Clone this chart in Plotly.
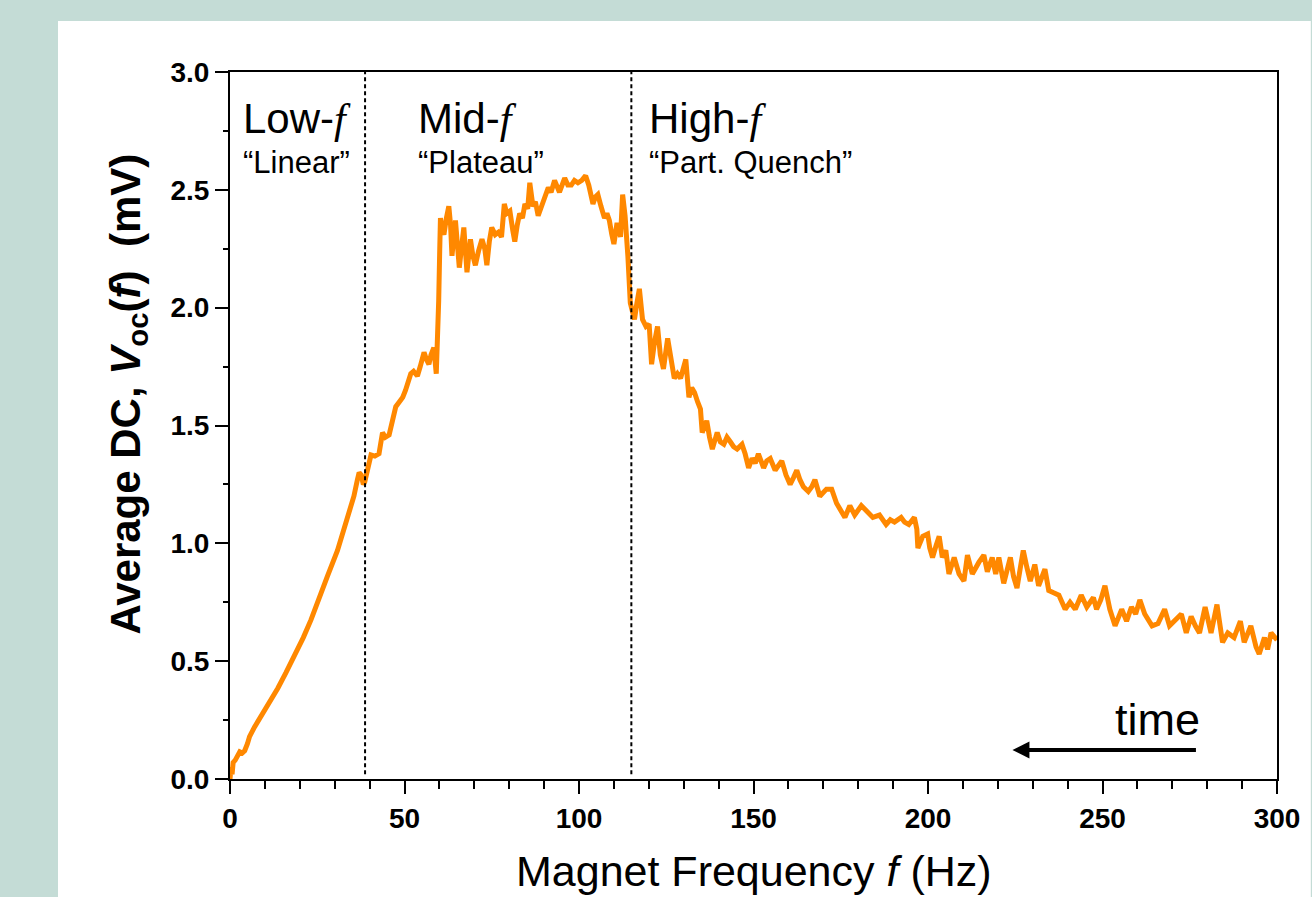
import plotly.graph_objects as go

# ---------------- data ----------------
freq_hz = [
    0.0, 0.3, 0.6, 0.9, 1.5, 2.2, 2.8, 3.5, 4.2, 5.0, 5.6, 7.0, 8.9, 11.0, 13.7, 16.0, 18.4, 21.0, 23.2, 25.5,
    27.9, 30.8, 33.6, 35.5, 36.5, 37.0, 37.6, 38.2, 38.6, 39.2, 39.8, 40.4, 41.5, 42.7, 43.7, 44.5, 45.6, 46.5,
    47.5, 48.5, 49.5, 50.3, 51.8, 52.6, 53.7, 54.5, 55.6, 56.3, 57.0, 57.6, 58.4, 59.1, 59.5, 59.8, 60.1, 60.3,
    60.8, 61.3, 62.0, 62.7, 63.2, 63.6, 64.6, 65.2, 65.7, 66.3, 67.0, 67.9, 68.9, 69.6, 70.3, 71.2, 72.2, 73.0,
    73.6, 74.3, 75.0, 76.0, 76.9, 77.8, 78.6, 79.3, 80.2, 81.0, 81.6, 82.3, 83.0, 83.8, 84.5, 85.3, 85.9, 86.8,
    87.5, 88.3, 89.0, 89.7, 91.2, 92.0, 93.0, 94.4, 95.2, 95.9, 96.8, 97.8, 98.7, 99.7, 100.8, 101.9, 102.8,
    104.0, 104.7, 105.4, 106.3, 107.3, 108.0, 108.7, 109.4, 110.0, 110.9, 111.9, 112.5, 113.2, 114.0, 114.4,
    114.7, 115.2, 115.9, 116.6, 117.3, 118.2, 119.2, 120.1, 120.8, 121.6, 122.5, 123.3, 124.2, 125.4, 126.3,
    127.3, 128.2, 129.1, 130.6, 131.5, 132.3, 133.1, 134.0, 134.8, 135.3, 136.6, 137.4, 138.2, 139.6, 140.5,
    141.5, 142.4, 143.4, 144.3, 145.3, 146.7, 147.6, 148.6, 149.6, 150.5, 151.4, 152.9, 153.8, 154.8, 156.2,
    157.2, 158.1, 159.3, 160.5, 161.5, 162.4, 163.3, 164.3, 165.7, 166.7, 167.6, 168.3, 169.0, 170.9, 172.4,
    173.8, 175.0, 176.2, 177.6, 179.0, 180.9, 182.8, 184.2, 186.1, 188.0, 189.2, 190.4, 192.3, 193.3, 194.5,
    196.1, 196.8, 197.1, 198.5, 199.9, 200.5, 201.3, 202.3, 203.2, 204.1, 205.1, 206.0, 207.5, 208.9, 210.3,
    211.3, 212.7, 214.6, 216.0, 217.0, 218.4, 219.4, 220.3, 221.7, 222.7, 223.6, 224.5, 225.5, 226.5, 227.3,
    228.3, 229.3, 230.6, 231.7, 233.5, 234.6, 236.0, 237.5, 239.3, 240.7, 242.2, 243.9, 245.5, 247.4, 248.3,
    249.5, 250.7, 252.1, 253.6, 255.5, 256.9, 258.3, 259.5, 260.7, 262.1, 264.2, 265.9, 267.8, 269.2, 270.7,
    272.6, 274.0, 275.4, 276.6, 277.8, 279.4, 281.1, 282.8, 284.4, 285.9, 287.7, 289.5, 290.6, 292.5, 294.0,
    294.9, 296.4, 297.3, 298.3, 300.0,
]
voc_mv = [
    0.00, 0.05, 0.02, 0.07, 0.08, 0.10, 0.115, 0.11, 0.12, 0.15, 0.18, 0.22, 0.265, 0.32, 0.385, 0.45, 0.52, 0.60, 0.675, 0.76,
    0.86, 0.97, 1.10, 1.20, 1.27, 1.30, 1.29, 1.25, 1.26, 1.30, 1.33, 1.375, 1.37, 1.38, 1.47, 1.45, 1.46, 1.52,
    1.58, 1.60, 1.62, 1.65, 1.72, 1.73, 1.71, 1.75, 1.81, 1.78, 1.76, 1.80, 1.83, 1.72, 1.85, 2.03, 2.25, 2.38,
    2.33, 2.31, 2.38, 2.43, 2.35, 2.22, 2.37, 2.28, 2.17, 2.25, 2.34, 2.15, 2.29, 2.22, 2.18, 2.24, 2.29, 2.25,
    2.18, 2.28, 2.34, 2.31, 2.32, 2.30, 2.44, 2.40, 2.41, 2.33, 2.28, 2.35, 2.40, 2.38, 2.44, 2.42, 2.53, 2.43,
    2.45, 2.39, 2.42, 2.46, 2.51, 2.49, 2.54, 2.49, 2.53, 2.55, 2.52, 2.52, 2.54, 2.53, 2.54, 2.56, 2.52,
    2.44, 2.47, 2.48, 2.43, 2.38, 2.40, 2.37, 2.31, 2.27, 2.36, 2.30, 2.48, 2.39, 2.22, 2.05,
    2.02, 1.99, 1.95, 2.02, 2.08, 1.95, 1.92, 1.93, 1.76, 1.85, 1.92, 1.80, 1.74, 1.87, 1.78,
    1.70, 1.72, 1.70, 1.78, 1.62, 1.66, 1.64, 1.60, 1.57, 1.47, 1.52, 1.45, 1.40, 1.47, 1.43,
    1.42, 1.45, 1.43, 1.41, 1.40, 1.42, 1.38, 1.32, 1.36, 1.34, 1.38, 1.32, 1.35, 1.36, 1.31,
    1.33, 1.35, 1.29, 1.25, 1.28, 1.31, 1.27, 1.24, 1.22, 1.24, 1.27, 1.23, 1.20, 1.23, 1.23,
    1.17, 1.14, 1.11, 1.16, 1.12, 1.16, 1.13, 1.11, 1.12, 1.08, 1.10, 1.09, 1.11, 1.09, 1.08,
    1.11, 1.06, 0.98, 1.03, 1.04, 0.98, 0.94, 0.99, 1.03, 0.94, 0.97, 0.87, 0.94, 0.87, 0.84,
    0.95, 0.87, 0.92, 0.95, 0.88, 0.94, 0.87, 0.94, 0.83, 0.88, 0.94, 0.86, 0.81, 0.90, 0.97,
    0.90, 0.84, 0.91, 0.82, 0.89, 0.80, 0.79, 0.78, 0.72, 0.75, 0.72, 0.78, 0.73, 0.77, 0.72,
    0.76, 0.82, 0.72, 0.65, 0.72, 0.67, 0.73, 0.70, 0.76, 0.70, 0.65, 0.66, 0.72, 0.65, 0.67,
    0.70, 0.62, 0.69, 0.65, 0.62, 0.73, 0.62, 0.74, 0.58, 0.62, 0.60, 0.67, 0.58, 0.65, 0.56,
    0.53, 0.60, 0.55, 0.62, 0.59,
]

regime_boundaries_hz = [38.7, 115.0]
regime_names = ["Low-", "Mid-", "High-"]
regime_notes = ["\u201cLinear\u201d", "\u201cPlateau\u201d", "\u201cPart. Quench\u201d"]
regime_label_x = [3.2, 53.2, 119.6]

x_ticks = [0, 50, 100, 150, 200, 250, 300]
y_ticks = [0.0, 0.5, 1.0, 1.5, 2.0, 2.5, 3.0]

# ---------------- figure ----------------
SANS = "Liberation Sans, Arial, sans-serif"
SERIF = "Liberation Serif, Times New Roman, serif"

fig = go.Figure()
fig.add_trace(go.Scatter(
    x=freq_hz, y=voc_mv, mode="lines",
    line=dict(color="#ff8800", width=5),
    showlegend=False, hoverinfo="skip",
))

# page panel (white card on teal background)
L, R, T, B = 230, 29, 72, 118
W, H = 1312, 897
pw, ph = W - L - R, H - T - B
fig.add_shape(type="rect", xref="paper", yref="paper",
              x0=(57 - L) / pw, x1=(W - L + 5) / pw,
              y0=-(B + 5) / ph, y1=(H - B - 21) / ph,
              fillcolor="white", line=dict(width=0), layer="below")

for xb in regime_boundaries_hz:
    fig.add_shape(type="line", xref="x", yref="y", x0=xb, x1=xb, y0=0.02, y1=3.0,
                  line=dict(color="black", width=2, dash="4px,3px"))

for name, note, xl in zip(regime_names, regime_notes, regime_label_x):
    fig.add_annotation(
        x=xl, y=2.803, xref="x", yref="y", xanchor="left", yanchor="middle",
        text=name + '<span style="font-family:' + SERIF + '"><i>f</i></span>',
        showarrow=False, font=dict(family=SANS, size=42, color="black"),
    )
    fig.add_annotation(
        x=xl, y=2.616, xref="x", yref="y", xanchor="left", yanchor="middle",
        text=note, showarrow=False, font=dict(family=SANS, size=31, color="black"),
    )

# time arrow
fig.add_annotation(x=224.2, y=0.123, ax=277.2, ay=0.123, xref="x", yref="y",
                   axref="x", ayref="y", text="", showarrow=True,
                   arrowhead=2, arrowsize=0.85, arrowwidth=4, arrowcolor="black")
fig.add_annotation(x=278.6, y=0.252, xref="x", yref="y", xanchor="right", yanchor="middle",
                   text="time", showarrow=False, font=dict(family=SANS, size=45, color="black"))

# axis titles as annotations
fig.add_annotation(x=0.5, y=-(871 - (H - B)) / ph, xref="paper", yref="paper",
                   xanchor="center", yanchor="middle",
                   text='Magnet Frequency <i>f</i> (Hz)', showarrow=False,
                   font=dict(family=SANS, size=43, color="black"))
fig.add_annotation(x=(127 - L) / pw, y=((H - B) - 394) / ph, xref="paper", yref="paper",
                   xanchor="center", yanchor="middle", textangle=-90,
                   text='Average DC, <i>V</i><sub>oc</sub>(<i>f</i>)  (mV)', showarrow=False,
                   font=dict(family=SANS, size=42, color="black", weight="bold"))

axis_common = dict(
    showline=True, linecolor="black", linewidth=2, mirror=True,
    ticks="outside", ticklen=13, tickwidth=2, tickcolor="black",
    showgrid=False, zeroline=False,
    tickfont=dict(family=SANS, size=28, color="black", weight="bold"),
)
fig.update_xaxes(range=[0, 300], tickvals=x_ticks, ticktext=[str(v) for v in x_ticks],
                 minor=dict(ticks="outside", dtick=10, tick0=0, ticklen=8, tickwidth=2, tickcolor="black"),
                 **axis_common)
fig.update_yaxes(range=[0, 3], tickvals=y_ticks, ticktext=[f"{v:.1f}" for v in y_ticks],
                 minor=dict(ticks="outside", dtick=0.25, tick0=0, ticklen=5, tickwidth=2, tickcolor="black"),
                 **axis_common)

fig.update_layout(
    width=W, height=H,
    margin=dict(l=L, r=R, t=T, b=B, pad=0),
    paper_bgcolor="#c4dcd6", plot_bgcolor="white",
    font=dict(family=SANS, color="black"),
)

fig.write_html("out.html", include_plotlyjs=True, config={"displayModeBar": False})
